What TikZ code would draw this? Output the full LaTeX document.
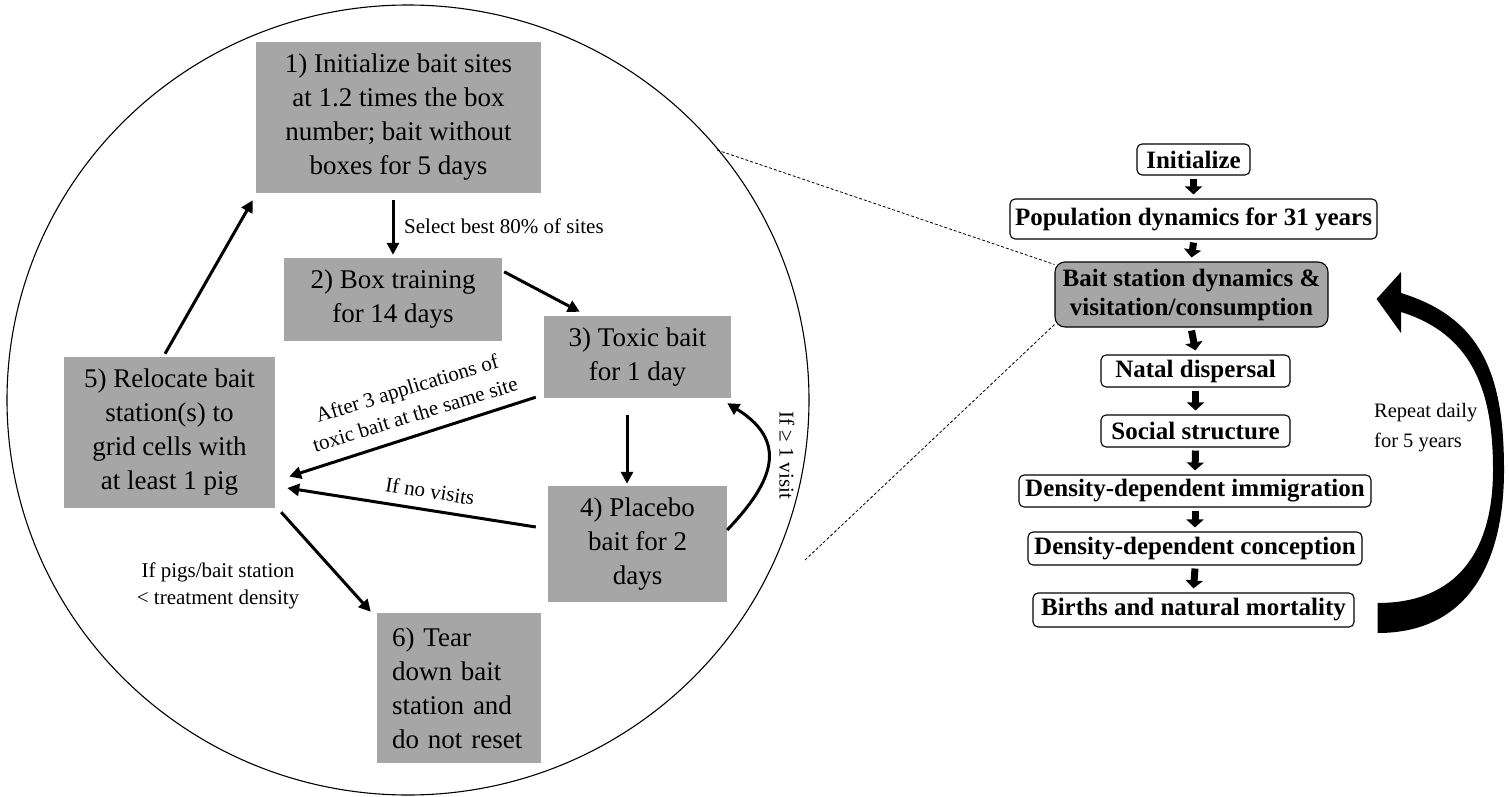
\documentclass[tikz,border=0pt]{standalone}
\usepackage{fontspec}
\setmainfont{Liberation Serif}
\usetikzlibrary{arrows.meta,calc}
\definecolor{boxgray}{RGB}{166,166,166}
\begin{document}
\begin{tikzpicture}[x=1pt,y=-1pt,
  gbox/.style={fill=boxgray, inner sep=0pt, align=center, font=\fontsize{27}{34}\selectfont},
  rbox/.style={draw, line width=1.1pt, rounded corners=5pt, fill=white, inner sep=0pt, align=center, font=\bfseries\fontsize{25}{29}\selectfont},
  flow/.style={line width=3pt, -{Triangle[length=12pt,width=12pt]}},
  blockarrow/.style={line width=7pt, -{Triangle[length=8pt,width=17pt]}},
  lbl/.style={inner sep=0pt, align=center, font=\fontsize{21}{27.5}\selectfont},
  zoomline/.style={dashed, dash pattern=on 3pt off 2pt, line width=0.8pt}]
\useasboundingbox (0,0) rectangle (1509,797);

% big ellipse
\draw[line width=1.1pt] (408,400) ellipse [x radius=401, y radius=395];

% left boxes
\node[gbox, minimum width=285pt, minimum height=151pt] (b1) at (398.5,117.5)
  {1) Initialize bait sites\\at 1.2 times the box\\number; bait without\\boxes for 5 days};
\node[gbox, minimum width=218pt, minimum height=83pt] (b2) at (393,299.5)
  {2) Box training\\for 14 days};
\node[gbox, minimum width=187pt, minimum height=82pt] (b3) at (637.5,357)
  {3) Toxic bait\\for 1 day};
\node[gbox, minimum width=179pt, minimum height=116pt] (b4) at (637.5,544)
  {4) Placebo\\bait for 2\\days};
\node[gbox, minimum width=211pt, minimum height=151pt] (b5) at (169.5,432.5)
  {5) Relocate bait\\station(s) to\\grid cells with\\at least 1 pig};
\node[gbox, align=left, text width=134pt, inner xsep=15pt, minimum height=150pt] (b6) at (459,688)
  {6) Tear\\down bait\\station and\\do not reset};

% left connectors
\draw[flow] ($(b1.south)+(-5.5,7)$) -- ($(b2.north)+(0,-3)$);
\draw[flow] ($(b2.north east)+(2,14)$) -- ($(b3.north west)+(36,-4)$);
\draw[flow] ($(b3.south)+(-10.5,17)$) -- ($(b4.north)+(-10.5,-2)$);
\draw[flow] ($(b3.south west)+(-8,-1)$) -- ($(b5.east)+(14,44)$);
\draw[flow] ($(b4.west)+(-12,-17)$) -- ($(b5.east)+(12,55.5)$);
\draw[flow] ($(b4.east)+(0,-14)$) .. controls (765,490) and (795,445) .. ($(b3.south east)+(-4,5)$);
\draw[flow] ($(b5.north)+(-4.5,-3)$) -- ($(b1.south west)+(-3,7)$);
\draw[flow] ($(b5.south east)+(6,4)$) -- ($(b6.north west)+(-6,-1)$);

% left labels
\node[lbl, anchor=west] (l1) at (404,226) {Select best 80\% of sites};
\node[lbl, rotate=17] (l2) at (411,401) {After 3 applications of\\toxic bait at the same site};
\node[lbl, rotate=-9] (l3) at (430,491) {If no visits};
\node[lbl] (l4) at (218,586) {If pigs/bait station\\< treatment density};
\node[lbl, rotate=-90] (l5) at (787,455) {If ≥ 1 visit};

% right flowchart
\node[rbox, minimum width=113pt, minimum height=31pt] (r1) at (1193.5,159.5) {Initialize};
\node[rbox, minimum width=367pt, minimum height=40pt] (r2) at (1193.5,219) {Population dynamics for 31 years};
\node[rbox, fill=boxgray, rounded corners=10pt, minimum width=273pt, minimum height=65pt] (r3) at (1191.5,294.5) {Bait station dynamics \&\\visitation/consumption};
\node[rbox, minimum width=189pt, minimum height=32pt] (r4) at (1195.5,371) {Natal dispersal};
\node[rbox, minimum width=189pt, minimum height=32pt] (r5) at (1195.5,431) {Social structure};
\node[rbox, minimum width=352pt, minimum height=32pt] (r6) at (1195,491) {Density-dependent immigration};
\node[rbox, minimum width=334pt, minimum height=33pt] (r7) at (1195,548.5) {Density-dependent conception};
\node[rbox, minimum width=321pt, minimum height=34pt] (r8) at (1193.5,610) {Births and natural mortality};

\foreach \a/\b in {r1/r2,r2/r3,r3/r4,r4/r5,r5/r6,r6/r7,r7/r8}
  \draw[blockarrow] ($(\a.south)+(0,3)$) -- ($(\b.north)+(0,-4)$);

% zoom lines
\coordinate (z1) at (717,150);
\coordinate (z2) at (805,560);
\draw[zoomline] (z1) -- ($(r3.north west)+(0,3)$);
\draw[zoomline] (z2) -- ($(r3.south west)+(0,-3)$);

% big curved repeat arrow
\fill ($(r8.east)+(23,23)$)
  .. controls (1470,633) and (1504,560) .. (1504,470)
  .. controls (1504,375) and (1482,318) .. (1401,293)
  -- (1401,272) -- ($(r3.east)+(48,4.5)$) -- (1401,333) -- (1401,312)
  .. controls (1475,335) and (1493,395) .. (1493,470)
  .. controls (1493,550) and (1458,603) .. ($(r8.east)+(23,-7)$) -- cycle;
\node[inner sep=0pt, align=left, anchor=west, font=\fontsize{20.5}{30}\selectfont] (rep) at (1374,428) {Repeat daily\\for 5 years};
\end{tikzpicture}
\end{document}
